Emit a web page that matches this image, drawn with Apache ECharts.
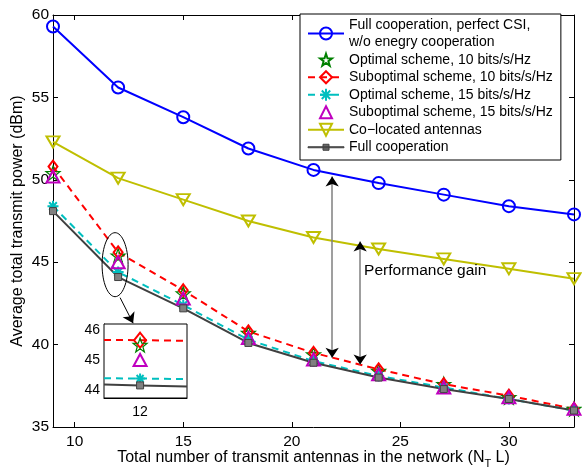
<!DOCTYPE html>
<html>
<head>
<meta charset="utf-8">
<script src="https://cdn.jsdelivr.net/npm/echarts@6/dist/echarts.min.js"></script>
<style>
  html, body { margin: 0; background: #fff; }
  #chart { width: 582px; height: 467px; }
</style>
</head>
<body>
<div id="chart"></div>
<script>
// number of transmit antennas (N_T L)
const antennas = [9, 12, 15, 18, 21, 24, 27, 30, 33];
const fullCsi = [59.3, 55.6, 53.8, 51.9, 50.6, 49.8, 49.1, 48.4, 47.9];
const opt10 = [50.4, 45.4, 43.1, 40.7, 39.4, 38.4, 37.6, 36.8, 36.1];
const sub10 = [50.8, 45.6, 43.3, 40.8, 39.5, 38.5, 37.6, 36.9, 36.1];
const opt15 = [48.4, 44.4, 42.4, 40.3, 39.0, 38.1, 37.4, 36.7, 36.0];
const sub15 = [50.2, 45.0, 42.8, 40.4, 39.1, 38.2, 37.4, 36.8, 36.1];
const colocated = [52.3, 50.1, 48.8, 47.5, 46.5, 45.8, 45.2, 44.6, 44.0];
const fullCoop = [48.1, 44.1, 42.2, 40.1, 38.9, 38.0, 37.3, 36.7, 36.0];
const xTicks = [10, 15, 20, 25, 30];

// zoomed inset around 12 antennas
const insetX = [11, 12, 13.3];
const insetSub10 = [45.67, 45.66, 45.64];
const insetOpt15 = [44.39, 44.38, 44.36];
const insetFull = [44.18, 44.15, 44.11];
const insetOpt10 = 45.5;
const insetSub15 = 45.0;
const insetXTicks = [12];
const insetYTicks = [44, 45, 46];

// annotations: [x, yTop, yBottom]
const gainArrows = [[21.86, 50.2, 39.2], [23.15, 46.25, 38.8]];
const zoomArrow = [[12.09, 42.85], [12.69, 41.3]];

const names = [
  'Full cooperation, perfect CSI,\nw/o enegry cooperation',
  'Optimal scheme, 10 bits/s/Hz',
  'Suboptimal scheme, 10 bits/s/Hz',
  'Optimal scheme, 15 bits/s/Hz',
  'Suboptimal scheme, 15 bits/s/Hz',
  'Co\u2212located antennas',
  'Full cooperation'
];

const STAR = 'path://M0,-10L2.35,-3.24L9.51,-3.09L3.8,1.24L5.88,8.09L0,4L-5.88,8.09L-3.8,1.24L-9.51,-3.09L-2.35,-3.24Z';
const ASTER = 'path://M0,-10L0,10M-10,0L10,0M-7,-7L7,7M-7,7L7,-7';
const TRI_UP = 'path://M0,-10L10,8L-10,8Z';
const TRI_DOWN = 'path://M-10,-8L10,-8L0,10Z';
const DIAMOND = 'path://M0,-10L7,0L0,10L-7,0Z';
// legend icon: line with a small square
const LINE_SQUARE = 'path://M0,7H36V8H0Z M15,4.5H21V10.5H15Z';
const FONT = 'Liberation Sans';
const NONE = 'rgba(0,0,0,0)';

const pairs = (xs, ys) => xs.map((x, i) => [x, ys[i]]);

function lineSeries(name, ys, color, symbol, size, opts) {
  opts = opts || {};
  return {
    name: name, type: 'line', xAxisIndex: 0, yAxisIndex: 0,
    data: pairs(antennas, ys),
    symbol: symbol, symbolSize: size,
    itemStyle: { color: opts.fill || NONE, borderColor: opts.border || color, borderWidth: opts.bw || 1.5 },
    lineStyle: opts.noLine ? { width: 0, opacity: 0 } :
      { color: color, width: 2, type: opts.dashed ? [7, 5] : 'solid' },
    emphasis: { disabled: true },
    z: opts.z || 2
  };
}

function insetSeries(name, ys, color, symbol, size, opts) {
  opts = opts || {};
  return {
    name: name, type: 'line', xAxisIndex: 2, yAxisIndex: 2,
    data: pairs(insetX, ys),
    symbol: symbol,
    symbolSize: (v, p) => (p.dataIndex === 1 ? size : 0),
    itemStyle: { color: opts.fill || NONE, borderColor: opts.border || color, borderWidth: opts.bw || 1.5 },
    lineStyle: opts.noLine ? { width: 0, opacity: 0 } :
      { color: color, width: 2, type: opts.dashed ? [7, 5] : 'solid' },
    emphasis: { disabled: true },
    z: opts.z || 3
  };
}

const frameAxis = {
  axisLine: { lineStyle: { color: '#000', width: 1 } },
  splitLine: { show: false }
};

const legendData = names.map((n, i) => i === 6
  ? { name: n, icon: LINE_SQUARE, itemStyle: { color: '#6a6a6a', borderColor: '#404040', borderWidth: 1 } }
  : { name: n });

const option = {
  animation: false,
  backgroundColor: '#fff',
  textStyle: { fontFamily: FONT },
  grid: [
    { left: 53, top: 15, right: 8, bottom: 40, outerBoundsMode: 'none' },
    { left: 104, top: 324, width: 83, height: 74, outerBoundsMode: 'none',
      show: true, backgroundColor: '#fff', borderColor: '#000', borderWidth: 1, z: 3 }
  ],
  legend: {
    data: legendData,
    orient: 'vertical',
    left: 300, top: 14,
    padding: [2, 8, 4, 7],
    itemWidth: 36, itemHeight: 15, itemGap: 0,
    backgroundColor: '#fff', borderColor: '#000', borderWidth: 1,
    textStyle: { fontFamily: FONT, fontSize: 14, color: '#000', lineHeight: 17.5 },
    selectedMode: false,
    z: 10
  },
  xAxis: [
    Object.assign({
      type: 'value', gridIndex: 0, position: 'bottom', min: 9, max: 33,
      axisTick: { inside: true, length: 5, customValues: xTicks, lineStyle: { color: '#000' } },
      axisLabel: { customValues: xTicks, fontSize: 15.5, color: '#000', margin: 7, fontFamily: FONT },
      name: '{m|Total number of transmit antennas in the network (N}{sub|T}{m| L)}',
      nameLocation: 'middle', nameGap: 23, nameMoveOverlap: false,
      nameTextStyle: { fontSize: 16, color: '#000', fontFamily: FONT,
        rich: {
          m: { fontSize: 16, fontFamily: FONT, color: '#000', lineHeight: 16, verticalAlign: 'top' },
          sub: { fontSize: 11, fontFamily: FONT, color: '#000', lineHeight: 11, verticalAlign: 'top', padding: [8, 0, 0, 0] }
        } }
    }, frameAxis),
    Object.assign({
      type: 'value', gridIndex: 0, position: 'top', min: 9, max: 33,
      axisTick: { inside: true, length: 5, customValues: xTicks, lineStyle: { color: '#000' } },
      axisLabel: { show: false }
    }, frameAxis),
    Object.assign({
      type: 'value', gridIndex: 1, position: 'bottom', min: 11, max: 13.3,
      axisTick: { inside: true, length: 4, customValues: insetXTicks, lineStyle: { color: '#000' } },
      axisLabel: { customValues: insetXTicks, fontSize: 14, color: '#000', margin: 7, fontFamily: FONT }
    }, frameAxis)
  ],
  yAxis: [
    Object.assign({
      type: 'value', gridIndex: 0, position: 'left', min: 35, max: 60, interval: 5,
      axisTick: { inside: true, length: 5, lineStyle: { color: '#000' } },
      axisLabel: { fontSize: 15.5, color: '#000', margin: 4, fontFamily: FONT },
      name: 'Average total transmit power (dBm)',
      nameLocation: 'middle', nameGap: 27, nameMoveOverlap: false,
      nameTextStyle: { fontSize: 16, color: '#000', fontFamily: FONT }
    }, frameAxis),
    Object.assign({
      type: 'value', gridIndex: 0, position: 'right', min: 35, max: 60, interval: 5,
      axisTick: { inside: true, length: 5, lineStyle: { color: '#000' } },
      axisLabel: { show: false }
    }, frameAxis),
    Object.assign({
      type: 'value', gridIndex: 1, position: 'left', min: 43.73, max: 46.2,
      axisTick: { inside: true, length: 4, customValues: insetYTicks, lineStyle: { color: '#000' } },
      axisLabel: { customValues: insetYTicks, fontSize: 14, color: '#000', margin: 4, fontFamily: FONT }
    }, frameAxis)
  ],
  series: [
    lineSeries(names[0], fullCsi, '#0000ff', 'circle', 12, { bw: 2 }),
    lineSeries(names[1], opt10, '#008000', STAR, 14, { noLine: true, bw: 1.2 }),
    lineSeries(names[2], sub10, '#ff0000', DIAMOND, [9, 12], { dashed: true, bw: 2 }),
    lineSeries(names[3], opt15, '#00bfbf', ASTER, 11, { dashed: true, bw: 2 }),
    lineSeries(names[4], sub15, '#bf00bf', TRI_UP, [13, 12], { noLine: true, bw: 2 }),
    lineSeries(names[5], colocated, '#bfbf00', TRI_DOWN, [13, 11], { bw: 2 }),
    lineSeries(names[6], fullCoop, '#404040', 'rect', 7, { fill: '#808080', border: '#404040', bw: 1 }),

    insetSeries('inset sub10', insetSub10, '#ff0000', DIAMOND, [12, 15], { dashed: true, bw: 2 }),
    insetSeries('inset opt10', insetX.map(() => insetOpt10), '#008000', STAR, 14, { noLine: true, bw: 1.2 }),
    insetSeries('inset sub15', insetX.map(() => insetSub15), '#bf00bf', TRI_UP, [13, 12], { noLine: true, bw: 2 }),
    insetSeries('inset opt15', insetOpt15, '#00bfbf', ASTER, 10, { dashed: true, bw: 2 }),
    insetSeries('inset full', insetFull, '#404040', 'rect', 7, { fill: '#808080', border: '#404040', bw: 1 }),

    // arrow shafts (grey)
    {
      name: 'gain shafts', type: 'line', xAxisIndex: 0, yAxisIndex: 0, data: [], z: 5,
      markLine: {
        silent: true, symbol: ['none', 'none'], label: { show: false },
        lineStyle: { color: '#7f7f7f', width: 1.5, type: 'solid' },
        emphasis: { disabled: true },
        data: gainArrows.map(a => [{ coord: [a[0], a[1]] }, { coord: [a[0], a[2]] }])
      }
    },
    // arrow heads (black)
    {
      name: 'gain heads', type: 'line', xAxisIndex: 0, yAxisIndex: 0, data: [], z: 6,
      markLine: {
        silent: true, symbol: ['arrow', 'arrow'], symbolSize: 10, label: { show: false },
        lineStyle: { color: '#000', width: 0, type: 'solid' },
        emphasis: { disabled: true },
        data: gainArrows.map(a => [{ coord: [a[0], a[1]] }, { coord: [a[0], a[2]] }])
      }
    },
    {
      name: 'zoom arrow', type: 'line', xAxisIndex: 0, yAxisIndex: 0, data: [], z: 6,
      markLine: {
        silent: true, symbol: ['none', 'arrow'], symbolSize: 10, label: { show: false },
        lineStyle: { color: '#000', width: 1, type: 'solid' },
        emphasis: { disabled: true },
        data: [[{ coord: zoomArrow[0] }, { coord: zoomArrow[1] }]]
      }
    }
  ]
};

const chart = echarts.init(document.getElementById('chart'), null, { renderer: 'canvas' });
chart.setOption(option);

// ellipse around the N_T L = 12 markers and the "Performance gain" text
const c = chart.convertToPixel({ gridIndex: 0 }, [11.86, 44.85]);
const t = chart.convertToPixel({ gridIndex: 0 }, [23.33, 44.5]);
chart.setOption({
  graphic: [
    { type: 'ellipse', shape: { cx: c[0], cy: c[1], rx: 13, ry: 32 },
      style: { fill: null, stroke: '#000', lineWidth: 1 }, z: 20 },
    { type: 'text', x: t[0], y: t[1],
      style: { text: 'Performance gain', fontFamily: FONT, fontSize: 15.5, fill: '#000', verticalAlign: 'middle' }, z: 20 }
  ]
});
</script>
</body>
</html>
